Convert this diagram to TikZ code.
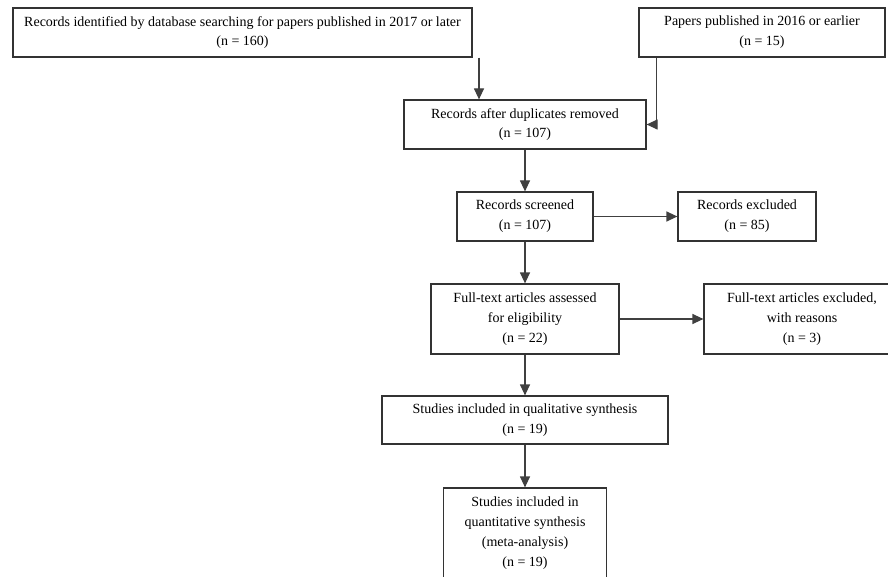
\documentclass[tikz,border=0pt]{standalone}
\usepackage{fontspec}
\setmainfont{Liberation Serif}
\usetikzlibrary{arrows.meta}
\begin{document}
\begin{tikzpicture}[x=1pt,y=-1pt,
  box/.style={draw=black!80, line width=1.2pt, fill=white, rectangle, align=center, inner sep=0pt,
    font=\fontsize{14}{19.8}\selectfont},
  conn/.style={draw=black!75, line width=1.2pt, -{Triangle[length=11pt,width=10pt]}}]
\useasboundingbox (0,0) rectangle (888,577);
\clip (0,0) rectangle (888,577);
\node[box, minimum width=459pt, minimum height=49pt] (id) at (242.5,32.5)
  {Records identified by database searching for papers published in 2017 or later\\(n = 160)};
\node[box, minimum width=246pt, minimum height=49pt] (old) at (762,32.5)
  {Papers published in 2016 or earlier\\(n = 15)};
\node[box, minimum width=242pt, minimum height=49pt] (dup) at (525,124.5)
  {Records after duplicates removed\\(n = 107)};
\node[box, minimum width=136pt, minimum height=49pt] (scr) at (525,216.5)
  {Records screened\\(n = 107)};
\node[box, minimum width=138pt, minimum height=49pt] (exc) at (747,216.5)
  {Records excluded\\(n = 85)};
\node[box, minimum width=188pt, minimum height=70pt] (ft) at (525,319)
  {Full-text articles assessed\\for eligibility\\(n = 22)};
\node[box, minimum width=196pt, minimum height=70pt] (fte) at (802,319)
  {Full-text articles excluded,\\with reasons\\(n = 3)};
\node[box, minimum width=286pt, minimum height=48pt] (qual) at (525,420)
  {Studies included in qualitative synthesis\\(n = 19)};
\node[box, minimum width=163pt, minimum height=90pt] (quant) at (525,533)
  {Studies included in\\quantitative synthesis\\(meta-analysis)\\(n = 19)};
\draw[conn] (id.south -| 479,0) -- (dup.north -| 479,0);
\draw[conn] (old.south west) ++(18,0) |- (dup.east);
\draw[conn] (dup) -- (scr);
\draw[conn] (scr) -- (exc);
\draw[conn] (scr) -- (ft);
\draw[conn] (ft) -- (fte);
\draw[conn] (ft) -- (qual);
\draw[conn] (qual) -- (quant);
\end{tikzpicture}
\end{document}
